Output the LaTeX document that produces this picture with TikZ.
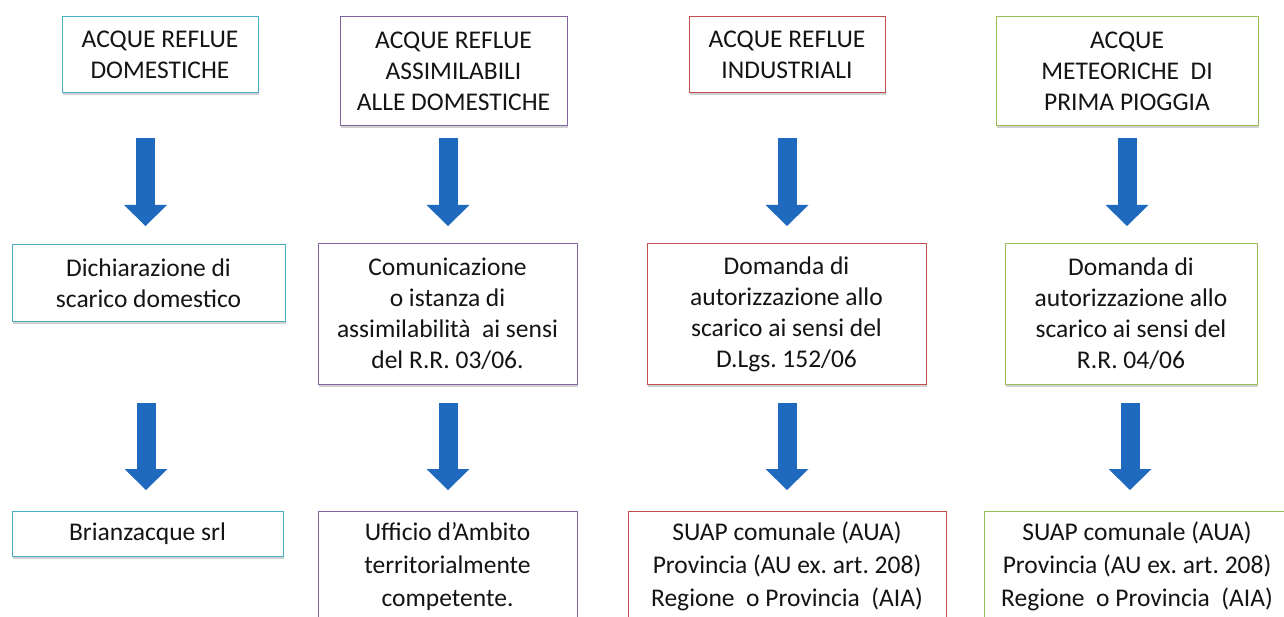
\documentclass[tikz,border=0pt]{standalone}
\usepackage{fontspec}
\setmainfont{Carlito}
\frenchspacing
\usetikzlibrary{arrows.meta,shadows}
\definecolor{cyanb}{HTML}{4BACC6}
\definecolor{purpb}{HTML}{8064A2}
\definecolor{redb}{HTML}{C0504D}
\definecolor{greenb}{HTML}{9BBB59}
\definecolor{arrowblue}{RGB}{31,105,190}
\definecolor{txt}{HTML}{141414}
\tikzset{
  box/.style={draw=#1, line width=1pt, fill=white, inner sep=0pt, align=center,
    text=txt, font=\fontsize{25.5}{31}\selectfont,
    drop shadow={shadow xshift=1pt, shadow yshift=-2.5pt, opacity=0.35, fill=black!50}},
  lowbox/.style={box=#1, font=\fontsize{25.5}{33}\selectfont},
  bigarrow/.style={draw=arrowblue, line width=19pt,
    -{Triangle[width=43pt,length=21pt,line width=0pt]}}
}
\begin{document}
\begin{tikzpicture}[x=1pt,y=-1pt]
\useasboundingbox (0,0) rectangle (1284,617);
\clip (0,0) rectangle (1284,617);
\fill[white] (0,0) rectangle (1284,617);
% top row
\node[box=cyanb, minimum width=196pt, minimum height=76pt] (T1) at (160,55) {ACQUE REFLUE\\DOMESTICHE};
\node[box=purpb, minimum width=227pt, minimum height=109pt] (T2) at (453.5,71.5) {ACQUE REFLUE\\ASSIMILABILI\\ALLE DOMESTICHE};
\node[box=redb, minimum width=196pt, minimum height=76pt] (T3) at (787,55) {ACQUE REFLUE\\INDUSTRIALI};
\node[box=greenb, minimum width=262pt, minimum height=109pt] (T4) at (1127,71.5) {ACQUE\\METEORICHE~~DI\\PRIMA PIOGGIA};
% middle row
\node[box=cyanb, minimum width=273pt, minimum height=77pt] (M1) at (148.5,283.5) {Dichiarazione di\\scarico domestico};
\node[box=purpb, minimum width=259pt, minimum height=140pt] (M2) at (447.5,314) {Comunicazione\\o istanza di\\assimilabilità~~ai sensi\\del R.R. 03/06.};
\node[box=redb, minimum width=279pt, minimum height=140pt] (M3) at (786.5,314) {Domanda di\\autorizzazione allo\\scarico ai sensi del\\D.Lgs. 152/06};
\node[box=greenb, minimum width=252pt, minimum height=140pt] (M4) at (1131,314) {Domanda di\\autorizzazione allo\\scarico ai sensi del\\R.R. 04/06};
% bottom row
\node[lowbox=cyanb, minimum width=271pt, minimum height=45pt] (B1) at (147.5,533.5) {Brianzacque srl};
\node[lowbox=purpb, minimum width=259pt, minimum height=112pt] (B2) at (447.5,567) {Ufficio d’Ambito\\territorialmente\\competente.};
\node[lowbox=redb, minimum width=318pt, minimum height=110pt] (B3) at (787,566) {SUAP comunale (AUA)\\Provincia (AU ex. art. 208)\\Regione~~o Provincia~~(AIA)};
\node[lowbox=greenb, minimum width=306pt, minimum height=110pt] (B4) at (1137,566) {SUAP comunale (AUA)\\Provincia (AU ex. art. 208)\\Regione~~o Provincia~~(AIA)};
% arrow end points
\coordinate (a1s) at (145.5,138); \coordinate (a1e) at (145.5,226);
\coordinate (a2s) at (448,138);   \coordinate (a2e) at (448,226);
\coordinate (a3s) at (787,138);   \coordinate (a3e) at (787,226);
\coordinate (a4s) at (1127,138);  \coordinate (a4e) at (1127,226);
\coordinate (b1s) at (146,403);   \coordinate (b1e) at (146,490);
\coordinate (b2s) at (448,403);   \coordinate (b2e) at (448,490);
\coordinate (b3s) at (787,403);   \coordinate (b3e) at (787,490);
\coordinate (b4s) at (1130,403);  \coordinate (b4e) at (1130,490);
\foreach \p in {a1,a2,a3,a4,b1,b2,b3,b4}{
  \draw[bigarrow] (\p s) -- (\p e);
}
\end{tikzpicture}
\end{document}
